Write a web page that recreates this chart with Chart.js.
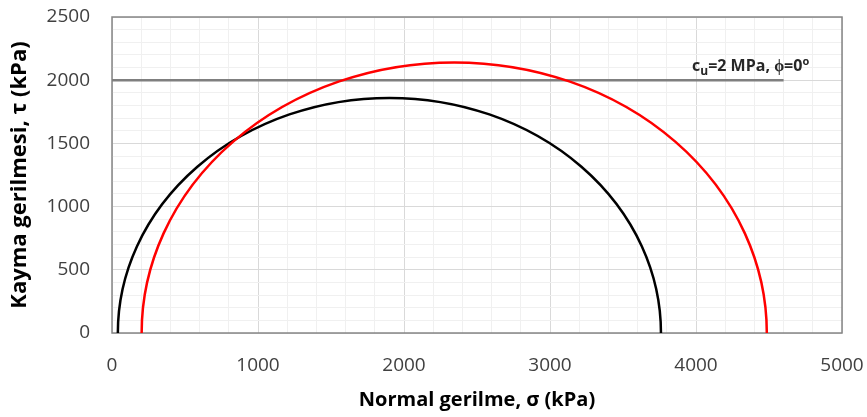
<!DOCTYPE html>
<html>
<head>
<meta charset="utf-8">
<script src="https://cdn.jsdelivr.net/npm/chart.js@4"></script>
<style>
  html, body { margin: 0; padding: 0; background: #fff; }
  #wrap { width: 867px; height: 417px; }
</style>
</head>
<body>
<div id="wrap"><canvas id="mohrChart"></canvas></div>
<script>
// Mohr circles: minor / major principal stress (kPa)
const circleNames = ["Daire 1", "Daire 2"];
const sigma3 = [40, 203];
const sigma1 = [3760, 4485];
const circleColors = ["#000000", "#ff0000"];

// failure envelope cu = 2 MPa
const envelopeX = [0, 4600];
const envelopeY = [2000, 2000];

const xTicks = [0, 1000, 2000, 3000, 4000, 5000];
const yTicks = [0, 500, 1000, 1500, 2000, 2500];

const tickFont = { family: "Open Sans", size: 19 };
const titleFont = { family: "Open Sans", size: 20, weight: "bold" };

// frame round the plot area
const frame = {
  id: "frame",
  beforeDatasetsDraw(chart) {
    const { ctx, chartArea: a } = chart;
    ctx.save();
    ctx.strokeStyle = "#868686";
    ctx.lineWidth = 1.5;
    ctx.strokeRect(a.left, a.top, a.right - a.left, a.bottom - a.top);
    ctx.restore();
  },
};

// half circles between the two end points of each mohr dataset
const mohr = {
  id: "mohr",
  afterDatasetsDraw(chart) {
    const { ctx, scales } = chart;
    chart.data.datasets.forEach((ds, i) => {
      if (!ds.mohr) return;
      const pts = chart.getDatasetMeta(i).data;
      const cx = (pts[0].x + pts[1].x) / 2;
      const rx = (pts[1].x - pts[0].x) / 2;
      const r = (ds.data[1].x - ds.data[0].x) / 2;
      const cy = scales.y.getPixelForValue(0);
      const ry = cy - scales.y.getPixelForValue(r);
      ctx.save();
      ctx.strokeStyle = ds.borderColor;
      ctx.lineWidth = ds.borderWidth;
      ctx.beginPath();
      ctx.ellipse(cx, cy, rx, ry, 0, Math.PI, 2 * Math.PI);
      ctx.stroke();
      ctx.restore();
    });
  },
};

// "cu=2 MPa, φ=0°" label
const envelopeLabel = {
  id: "envelopeLabel",
  afterDraw(chart) {
    const { ctx, scales } = chart;
    let x = scales.x.getPixelForValue(3973);
    const y = scales.y.getPixelForValue(2073);
    const parts = [
      { t: "c", size: 16, dy: 0 },
      { t: "u", size: 12, dy: 4 },
      { t: "=2 MPa, \u03d5=0", size: 16, dy: 0 },
      { t: "o", size: 11, dy: -6 },
    ];
    ctx.save();
    ctx.fillStyle = "#262626";
    ctx.textBaseline = "alphabetic";
    parts.forEach((p) => {
      ctx.font = "bold " + p.size + "px 'Open Sans'";
      ctx.fillText(p.t, x, y + p.dy);
      x += ctx.measureText(p.t).width;
    });
    ctx.restore();
  },
};

const datasets = [
  {
    label: "c_u",
    data: envelopeX.map((x, i) => ({ x: x, y: envelopeY[i] })),
    showLine: true,
    borderColor: "#7f7f7f",
    borderWidth: 2.5,
    pointRadius: 0,
  },
];
circleNames.forEach((name, i) => {
  datasets.push({
    label: name,
    mohr: true,
    data: [
      { x: sigma3[i], y: 0 },
      { x: sigma1[i], y: 0 },
    ],
    showLine: false,
    borderColor: circleColors[i],
    borderWidth: 2.5,
    pointRadius: 0,
  });
});

const ctx = document.getElementById("mohrChart").getContext("2d");
new Chart(ctx, {
  type: "scatter",
  data: { datasets: datasets },
  plugins: [frame, mohr, envelopeLabel],
  options: {
    responsive: true,
    maintainAspectRatio: false,
    animation: false,
    layout: { padding: { top: 17, right: 25, left: 0, bottom: 0 } },
    plugins: {
      legend: { display: false },
      tooltip: { enabled: false },
    },
    scales: {
      x: {
        type: "linear",
        min: xTicks[0],
        max: xTicks[xTicks.length - 1],
        afterFit: (s) => { s.height = 84; },
        ticks: {
          stepSize: 200,
          autoSkip: false,
          maxRotation: 0,
          padding: 0,
          color: "#404040",
          font: tickFont,
          callback: (v) => (xTicks.includes(v) ? v : ""),
        },
        grid: {
          drawTicks: true,
          tickLength: 21,
          tickColor: "rgba(0,0,0,0)",
          color: (c) => (c.tick && c.tick.value % 1000 === 0 ? "#d9d9d9" : "#f0f0f0"),
        },
        border: { display: false },
        title: {
          display: true,
          text: "Normal gerilme, \u03c3 (kPa)",
          color: "#000",
          font: titleFont,
          padding: { top: 0, bottom: 5 },
        },
      },
      y: {
        type: "linear",
        min: yTicks[0],
        max: yTicks[yTicks.length - 1],
        afterFit: (s) => { s.width = 112; },
        ticks: {
          stepSize: 100,
          autoSkip: false,
          padding: 0,
          color: "#404040",
          font: tickFont,
          callback: (v) => (yTicks.includes(v) ? v : ""),
        },
        grid: {
          drawTicks: true,
          tickLength: 22,
          tickColor: "rgba(0,0,0,0)",
          color: (c) => (c.tick && c.tick.value % 500 === 0 ? "#d9d9d9" : "#f0f0f0"),
        },
        border: { display: false },
        title: {
          display: true,
          text: "Kayma gerilmesi, \u03c4 (kPa)",
          color: "#000",
          font: { family: "Open Sans", size: 22, weight: "bold" },
          padding: { top: 7, bottom: 0 },
        },
      },
    },
  },
});
</script>
</body>
</html>
